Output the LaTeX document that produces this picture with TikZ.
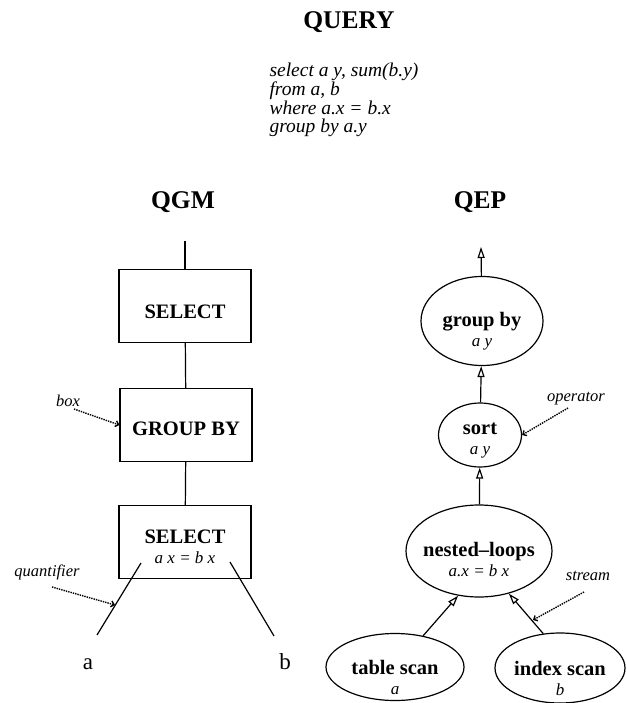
\documentclass[tikz,border=0pt]{standalone}
\usepackage{fontspec}
\setmainfont{Liberation Serif}
\usetikzlibrary{shapes.geometric,arrows.meta}
\newcommand{\opdetail}[1]{\\[-2pt]{\fontsize{17}{19}\selectfont\mdseries\itshape #1}}

\begin{document}
\begin{tikzpicture}
[x=1pt,y=-1pt,
  titledecorate/.style={font=\fontsize{25.5}{28}\selectfont\bfseries},
  boxdecorate/.style={shape=rectangle,draw,line width=1.2pt,minimum width=132pt,minimum height=73pt,inner sep=0pt},
  ovaldecorate/.style={shape=ellipse,draw,line width=1.2pt,inner sep=0pt},
  labeldecorate/.style={align=center,font=\fontsize{20.5}{22}\selectfont\bfseries},
  notedecorate/.style={font=\fontsize{16.5}{18}\selectfont\itshape},
  linedecorate/.style={-,line width=1.2pt},
  arrowdecorate/.style={-{Triangle[open,length=11pt,width=7pt]},line width=1.2pt},
  pointdecorate/.style={densely dotted,line width=1.4pt,-{Straight Barb[length=3pt,width=6pt]}}]
\useasboundingbox (0,0) rectangle (626,703);

%% titles and query text
\node (query) at (349,22) [titledecorate] {QUERY};
\node (sqltext) at (266,100) [anchor=west,align=left,font=\fontsize{19.5}{18.7}\selectfont\itshape]
  {select a y, sum(b.y)\\ from a, b\\ where a.x = b.x\\ group by a.y};
\node (qgm) at (183,202) [titledecorate] {QGM};
\node (qep) at (480,202) [titledecorate] {QEP};

%% QGM boxes
\node (sel) at (185,306) [boxdecorate,label={[yshift=-6pt,labeldecorate]center:SELECT}] {};
\node (gby) at (186,425) [boxdecorate,label={[yshift=-4pt,labeldecorate]center:GROUP BY}] {};
\node (whr) at (185,542) [boxdecorate,label={[yshift=-5pt,labeldecorate]center:SELECT\opdetail{a x = b x}}] {};
\coordinate (qgmtop) at (185,241);
\coordinate (qa1) at (141,563);
\coordinate (qa2) at (97,635);
\coordinate (qb1) at (230,562);
\coordinate (qb2) at (274,636);
\node (ta) at (88,669) [anchor=base,font=\fontsize{23}{25}\selectfont] {a};
\node (tb) at (285,669) [anchor=base,font=\fontsize{23}{25}\selectfont] {b};
\draw[linedecorate] (qgmtop) -- (sel);
\draw[linedecorate] (sel) -- (gby);
\draw[linedecorate] (gby) -- (whr);
\draw[linedecorate] (qa1) -- (qa2);
\draw[linedecorate] (qb1) -- (qb2);

%% QEP operators
\foreach \nodename/\x/\y/\ovalw/\ovalh/\drop/\main/\detail in {
  grp/482/321/122/89/10/group by/a y, srt/480/435/83/64/6/sort/a y,
  nlp/479/551/146/92/9/nested--loops/a.x = b x,
  tsc/395/667/138/67/10/table scan/a, isc/560/668/130/70/10/index scan/b}
{
  \node (\nodename) at (\x,\y) [ovaldecorate,minimum width=\ovalw pt,minimum height=\ovalh pt,
    label={[yshift=-\drop pt,labeldecorate]center:\main\opdetail{\detail}}] {};
}
\coordinate (qeptop) at (481,247);
%% streams
\path
\foreach \startnode/\endnode in {grp/qeptop, srt/grp, nlp/srt, tsc.48/nlp.245, isc.116/nlp.305} {
  (\startnode) edge[arrowdecorate] (\endnode)
};

%% annotations
\node (boxnote) at (68,401) [notedecorate] {box};
\node (quantnote) at (47,572) [notedecorate] {quantifier};
\node (opnote) at (576,399) [notedecorate] {operator};
\node (streamnote) at (588,576) [notedecorate] {stream};
\coordinate (boxtail) at (74,409);
\coordinate (quanttail) at (52,587);
\coordinate (quanthead) at (115,605);
\coordinate (optail) at (568,408);
\coordinate (streamtail) at (584,592);
\coordinate (streamhead) at (533,620);
\draw[pointdecorate] (boxtail) -- (gby.west);
\draw[pointdecorate] (quanttail) -- (quanthead);
\draw[pointdecorate] (optail) -- (srt.east);
\draw[pointdecorate] (streamtail) -- (streamhead);
\end{tikzpicture}
\end{document}
